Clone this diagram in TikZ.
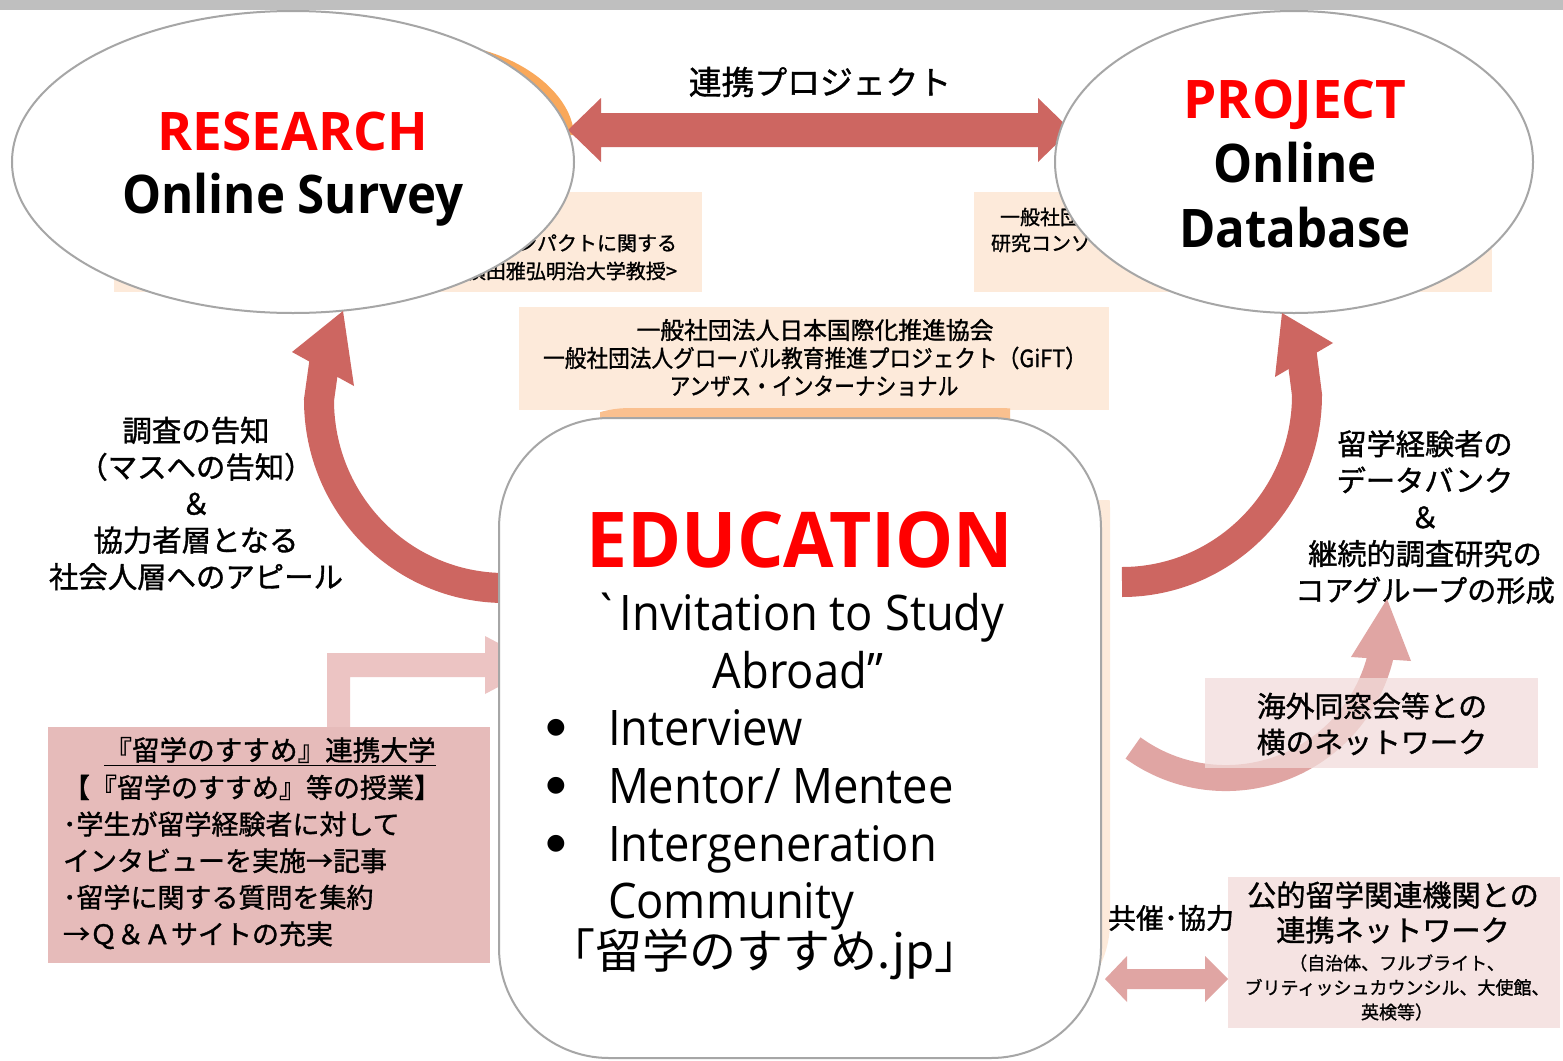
\documentclass[tikz,border=0pt]{standalone}
\usepackage{fontspec}
\usepackage{graphicx}
\setmainfont{Open Sans}
\newfontfamily\ennarrow{Open Sans}[FakeStretch=0.925]
\newfontfamily\encaps{Open Sans}[FakeStretch=0.95]
\newfontfamily\jp{Noto Sans CJK JP}[FakeBold=1.2]
\newfontfamily\jplite{Noto Sans CJK JP}
\newfontfamily\symfont{DejaVu Sans}
\usetikzlibrary{shapes.geometric}
\newcommand{\jpsz}[2]{\jp\fontsize{#1pt}{#2pt}\selectfont}
\newcommand{\ensz}[2]{\fontsize{#1pt}{#2pt}\selectfont}

\definecolor{arrowred}{RGB}{205,102,97}
\definecolor{arrowpink}{RGB}{224,165,163}
\definecolor{elbowpink}{RGB}{236,196,195}
\definecolor{peach}{RGB}{253,234,218}
\definecolor{peachdeep}{RGB}{250,192,143}
\definecolor{orangeedge}{RGB}{249,168,90}
\definecolor{rosebox}{RGB}{230,187,186}
\definecolor{blush}{RGB}{242,220,219}
\definecolor{rimgray}{RGB}{166,166,166}
\definecolor{topbar}{RGB}{191,191,191}
\definecolor{titlered}{RGB}{255,0,0}

\begin{document}
\begin{tikzpicture}[x=0.5pt,y=-0.5pt,
  every node/.style={inner sep=0pt, outer sep=0pt},
  panel/.style={rectangle, fill=peach, draw=none},
  rim/.style={draw=rimgray, line width=1pt, fill=white},
  oval/.style={ellipse, rim},
  headline/.style={font=\bfseries\ensz{26.6}{30}, text=titlered},
  subline/.style={font=\ennarrow\bfseries\ensz{26.6}{30}},
  item/.style={anchor=base west, font=\ennarrow\ensz{24.5}{28}},
  dot/.style={font=\symfont\ensz{11}{12}},
]
\useasboundingbox (0,0) rectangle (1563,1060);
\fill[white] (0,0) rectangle (1563,1060);
\fill[topbar] (0,0) rectangle (1563,10);

% ---------- panels lying behind the two ovals ----------
\node[panel, minimum width=294pt, minimum height=50pt] (survpanel) at (408,242) {};
\node[panel, minimum width=259pt, minimum height=50pt] (dbpanel) at (1233,242) {};
\node[anchor=east, align=right, font=\jpsz{10}{14}] (impact) at (677,257)
  {留学のインパクトに関する\\＜横田雅弘明治大学教授>};
\node[anchor=west, font=\jpsz{10}{14}] (consort1) at (1000,217) {一般社団法人};
\node[anchor=west, font=\jpsz{10}{14}] (consort2) at (991,243) {研究コンソーシアム};

% ---------- organisations panel ----------
\node[panel, minimum width=295pt, minimum height=51.5pt] (orgpanel) at (814,358.5) {};
\node[font=\jpsz{11.9}{14}] (org1) at (815,330) {一般社団法人日本国際化推進協会};
\node[font=\jpsz{11.9}{14}] (org2) at (815,358) {\scalebox{0.91}[1]{一般社団法人グローバル教育推進プロジェクト（GiFT）}};
\node[font=\jpsz{11.9}{14}] (org3) at (814,386) {\scalebox{0.87}[1]{アンザス・インターナショナル}};

% orange crescent peeking out behind the survey oval
\fill[orangeedge] (470,47) .. controls (525,58) and (572,95) .. (574,135) -- (540,135) -- (470,60) -- cycle;

% ---------- joint project double arrow ----------
\fill[arrowred] (568,130) -- (601,98) -- (601,113) -- (1038,113) -- (1038,98) -- (1071,130)
  -- (1038,162) -- (1038,147) -- (601,147) -- (601,162) -- cycle;
\node[font=\jpsz{16.4}{20}] (joint) at (820,82) {連携プロジェクト};

% ---------- the two ovals ----------
\node[oval, minimum width=281pt, minimum height=151pt] (research) at (293,162) {};
\node[headline, anchor=base] (researchhead) at (293,150) {RESEARCH};
\node[subline, anchor=base] (survey) at (293,213) {Online Survey};

\node[oval, minimum width=239pt, minimum height=151pt] (project) at (1294,162) {};
\node[headline, anchor=base] (projecthead) at (1295,118) {PROJECT};
\node[subline, anchor=base] (online) at (1295,182) {Online};
\node[subline, anchor=base] (database) at (1295,247) {Database};

% ---------- curved arrows from the education box ----------
\coordinate (leftstart) at (505,588);
\coordinate (leftend) at (326,350);
\draw[arrowred, line width=15pt] (leftstart) .. controls (402,588) and (319,504) .. (319,400) -- (leftend);
\fill[arrowred] (343,311) -- (292,352) -- (354,386) -- cycle;

\coordinate (rightstart) at (1122,582);
\coordinate (rightend) at (1301,348);
\draw[arrowred, line width=15pt] (rightstart) .. controls (1224,582) and (1307,498) .. (1307,395) -- (rightend);
\fill[arrowred] (1282,313) -- (1333,343) -- (1275,377) -- cycle;

\node[align=center, font=\jpsz{14.7}{18.3}] (notice) at (196,503.5)
  {調査の告知\\（マスへの告知）\\＆\\協力者層となる\\社会人層へのアピール};
\node[align=center, font=\jpsz{14.6}{18.3}] (databank) at (1425,517)
  {留学経験者の\\データバンク\\＆\\継続的調査研究の\\コアグループの形成};

% ---------- education box and its backing ----------
\begin{scope}
  \clip (1095,500) rectangle (1120,1030);
  \fill[peach, rounded corners=50pt] (520,408) rectangle (1110,1022);
\end{scope}
\begin{scope}
  \clip (600,400) rectangle (1010,426);
  \fill[peachdeep, rounded corners=55pt] (520,408) rectangle (1110,1022);
\end{scope}

% partner universities feeding into the box
\fill[elbowpink] (327,727) -- (327,653) -- (485,653) -- (485,636) -- (540,665) -- (485,694)
  -- (485,677) -- (350,677) -- (350,727) -- cycle;

\node[rim, rectangle, rounded corners=55pt, minimum width=301pt, minimum height=320pt] (edu) at (800,738) {};
\node[anchor=base, font=\encaps\bfseries\ensz{38.5}{40}, text=titlered] (edutitle) at (800,567) {EDUCATION};
\node[anchor=base, font=\ennarrow\ensz{24.5}{28}] (invite1) at (799,630) {\symbol{"60}Invitation to Study};
\node[anchor=base, font=\ennarrow\ensz{24.5}{28}] (invite2) at (798,688) {Abroad”};
\node[dot] (dot1) at (556,728) {●};
\node[dot] (dot2) at (556,786) {●};
\node[dot] (dot3) at (556,844) {●};
\node[item] (item1) at (608,745) {Interview};
\node[item] (item2) at (608,803) {Mentor/ Mentee};
\node[item] (item3) at (608,861) {Intergeneration};
\node[item] (item4) at (608,918) {Community};
\node[anchor=base, font=\jplite\ensz{23.5}{28}] (site) at (765,968) {「留学のすすめ.jp」};

% ---------- partner universities box ----------
\node[rectangle, fill=rosebox, minimum width=221pt, minimum height=118pt] (univpanel) at (269,845) {};
\node[font=\jpsz{13.8}{18.3}] (univtitle) at (270,752) {\underline{『留学のすすめ』連携大学}};
\node[anchor=west, align=left, font=\jpsz{13.5}{18.3}] (univbody) at (63,862)
  {【『留学のすすめ』等の授業】\\･学生が留学経験者に対して\\インタビューを実施→記事\\･留学に関する質問を集約\\→Ｑ＆Ａサイトの充実};

% ---------- alumni network arrow ----------
\coordinate (alumnistart) at (1133,748);
\draw[arrowpink, line width=13pt] (alumnistart) arc[start angle=125.8, end angle=5, radius=159];
\fill[arrowpink] (1387,599) -- (1351,657) -- (1411,661) -- cycle;
\node[rectangle, fill=blush, fill opacity=0.75, minimum width=166.5pt, minimum height=45pt] (alumnipanel) at (1371.5,723) {};
\node[align=center, font=\jpsz{14.4}{18}] (alumni) at (1372,724) {海外同窓会等との\\横のネットワーク};

% ---------- public bodies ----------
\fill[arrowpink] (1105,979) -- (1127,956) -- (1127,969) -- (1205,969) -- (1205,956) -- (1228,979)
  -- (1205,1002) -- (1205,989) -- (1127,989) -- (1127,1002) -- cycle;
\node[rectangle, fill=blush!80!white, minimum width=166pt, minimum height=75.5pt] (partnerpanel) at (1394,952.5) {};
\node[font=\jpsz{14}{16}] (cohost) at (1171,918) {共催･協力};
\node[align=center, font=\jpsz{14.6}{17.5}] (partners) at (1393,912.5) {公的留学関連機関との\\連携ネットワーク};
\node[align=center, font=\jpsz{9}{12.25}] (partnerlist) at (1397,987.5)
  {（自治体、フルブライト、\\ブリティッシュカウンシル、大使館、\\英検等）};
\end{tikzpicture}
\end{document}
